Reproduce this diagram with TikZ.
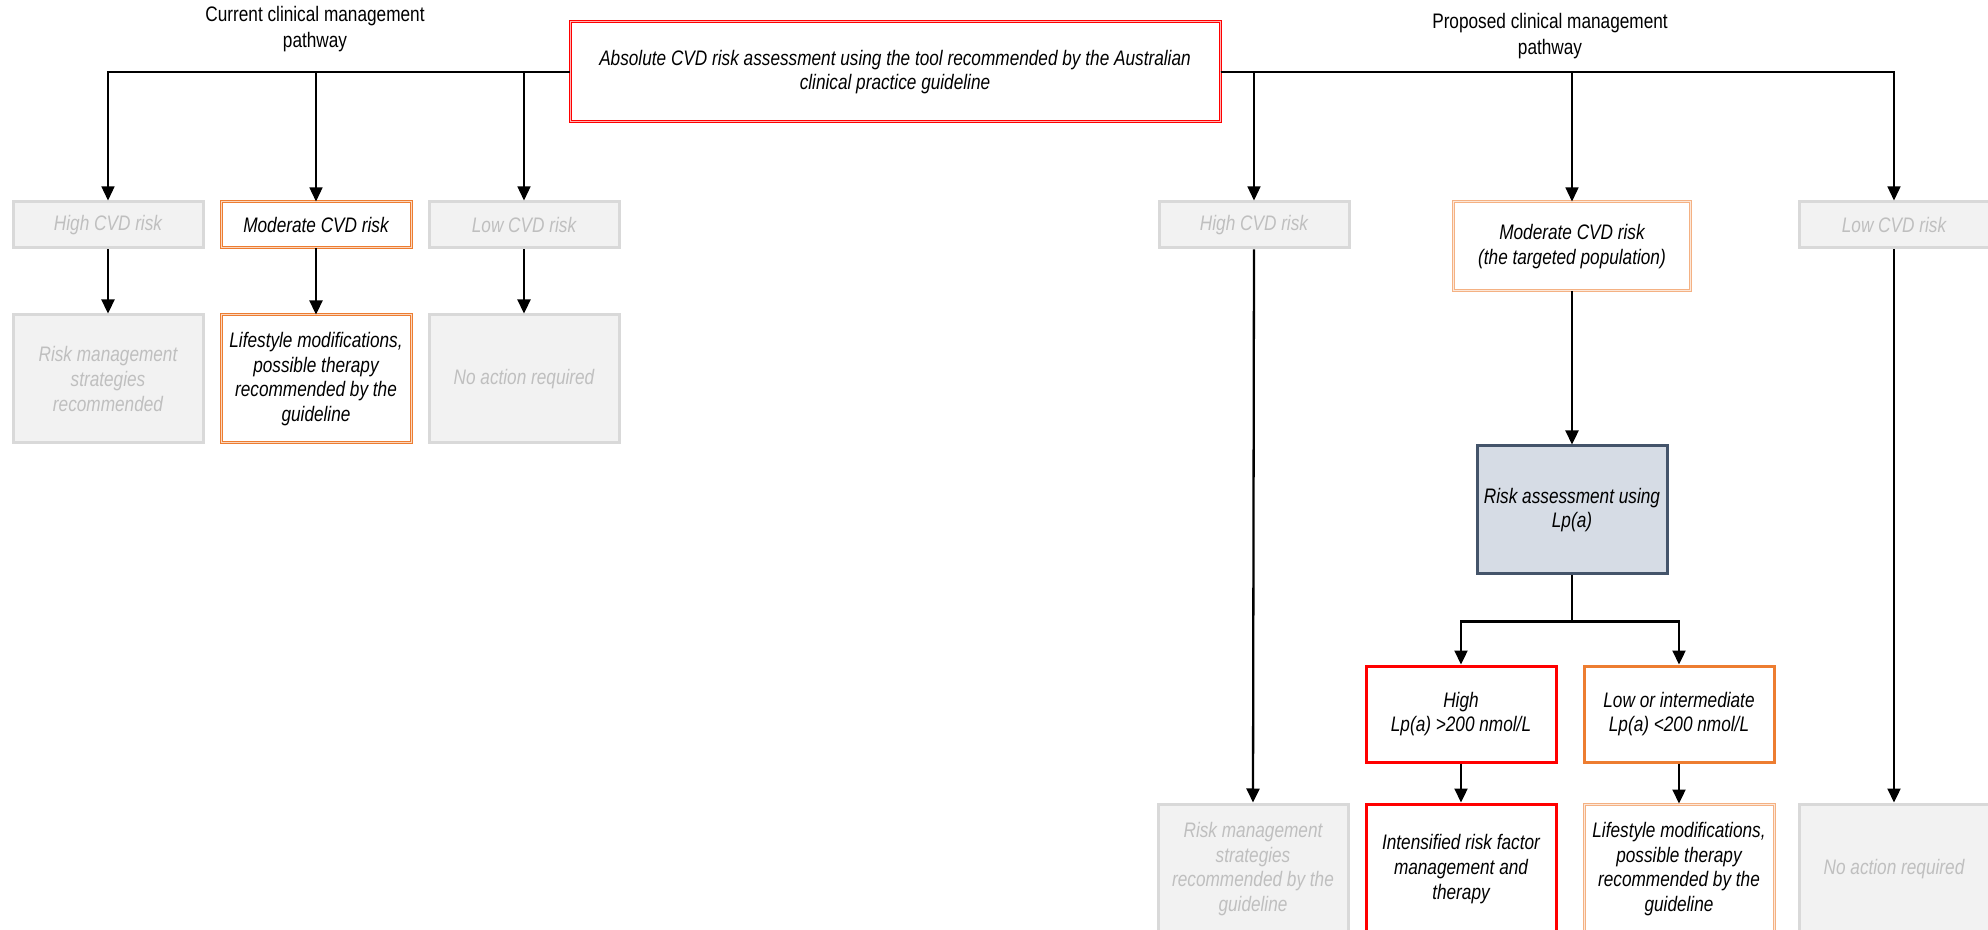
\documentclass[tikz,border=0pt]{standalone}
\usepackage{fontspec}
\setmainfont{Liberation Sans}[FakeStretch=0.82]
\usetikzlibrary{arrows.meta}

\definecolor{boxgrey}{HTML}{F2F2F2}
\definecolor{edgegrey}{HTML}{D9D9D9}
\definecolor{textgrey}{HTML}{BFBFBF}
\definecolor{hired}{HTML}{FF0000}
\definecolor{midorange}{HTML}{ED7D31}
\definecolor{paleorange}{HTML}{F4B183}
\definecolor{slatefill}{HTML}{D6DCE5}
\definecolor{slateedge}{HTML}{44546A}

\tikzset{
  txt/.style={font=\fontsize{10.5pt}{12.35pt}\selectfont\itshape, align=center, inner sep=0pt},
  cell/.style={txt, minimum width=95pt, rectangle},
  greybox/.style={cell, fill=boxgrey, draw=edgegrey, line width=1.5pt, text=textgrey},
  redbox/.style={cell, fill=white, draw=hired, line width=1.5pt},
  orangebox/.style={cell, fill=white, draw=midorange, line width=1.5pt},
  slatebox/.style={cell, fill=slatefill, draw=slateedge, line width=1.5pt},
  dbl/.style={cell, fill=white, draw=#1, line width=0.5pt, double=#1!30, double distance=0.5pt},
  thin/.style={draw=black, line width=0.65pt, -{Triangle[length=7pt,width=6.5pt]}},
  thick/.style={draw=black, line width=1.15pt, -{Triangle[length=7pt,width=6.5pt]}},
  heading/.style={font=\fontsize{10.5pt}{12.8pt}\selectfont, align=center, inner sep=0pt}
}

\begin{document}
\begin{tikzpicture}[x=0.5pt, y=-0.5pt]
\useasboundingbox (0,0) rectangle (1988,930);
\clip (0,0) rectangle (1988,930);
\fill[white] (0,0) rectangle (1988,930);

% headings
\node[heading] (curtitle) at (315,29) {Current clinical management\\pathway};
\node[heading] (protitle) at (1550,36) {Proposed clinical management\\pathway};

% top assessment box
\node[dbl=hired, minimum width=325pt, minimum height=50pt] (main) at (895,72)
  {Absolute CVD risk assessment using the tool recommended by the Australian\\clinical practice guideline};

% current pathway
\node[greybox, minimum height=23pt] (hc) at (108,225) {High CVD risk};
\node[dbl=midorange, minimum height=23pt] (mc) at (316,225) {Moderate CVD risk};
\node[greybox, minimum height=23pt] (lc) at (524,225) {Low CVD risk};

\node[greybox, minimum height=64pt] (hr) at (108,379) {Risk management\\strategies\\recommended};
\node[dbl=midorange, minimum height=64pt] (mr) at (316,379) {Lifestyle modifications,\\possible therapy\\recommended by the\\guideline};
\node[greybox, minimum height=64pt] (lr) at (524,379) {No action required};

% proposed pathway
\node[greybox, minimum height=23pt] (hcp) at (1254,225) {High CVD risk};
\node[dbl=paleorange, minimum width=118.5pt, minimum height=44.5pt] (mcp) at (1572,246.5) {Moderate CVD risk\\(the targeted population)};
\node[greybox, minimum height=23pt] (lcp) at (1894,225) {Low CVD risk};

\node[slatebox, minimum height=64pt] (ra) at (1572,510) {Risk assessment using\\Lp(a)};

\node[redbox, minimum height=48pt] (hl) at (1461,714) {High\\Lp(a) >200 nmol/L};
\node[orangebox, minimum height=48pt] (ll) at (1679,714) {Low or intermediate\\Lp(a) <200 nmol/L};

\node[greybox, minimum height=65pt] (hrp) at (1253,869) {Risk management\\strategies\\recommended by the\\guideline};
\node[redbox, minimum height=65pt] (ir) at (1461,869) {Intensified risk factor\\management and\\therapy};
\node[dbl=paleorange, minimum height=65pt] (lrp) at (1679,869) {Lifestyle modifications,\\possible therapy\\recommended by the\\guideline};
\node[greybox, minimum height=65pt] (nrp) at (1894,869) {No action required};

% branches from the assessment box
\draw[thin] (main.west) -| (hc.north);
\draw[thin] (main.west) -| (mc.north);
\draw[thin] (main.west) -| (lc.north);
\draw[thin] (main.east) -| (hcp.north);
\draw[thin] (main.east) -| (mcp.north);
\draw[thin] (main.east) -| (lcp.north);

% current pathway outcomes
\draw[thick] (hc) -- (hr);
\draw[thick] (mc) -- (mr);
\draw[thick] (lc) -- (lr);

% proposed pathway outcomes
\draw[thick] (hcp.south) -- (hrp.north);
\draw[thick] (lcp.south) -- (nrp.north);
\draw[thick] (mcp.south) -- (ra.north);
\coordinate (split) at ([yshift=-23pt]ra.south);
\draw[thick] (ra.south) -- (split) -| (hl.north);
\draw[thick] (split) -| (ll.north);
\draw[thick] (hl) -- (ir);
\draw[thick] (ll) -- (lrp);
\end{tikzpicture}
\end{document}
